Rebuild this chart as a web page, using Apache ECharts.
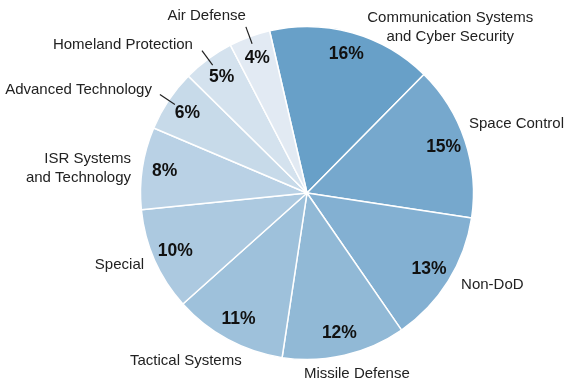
<!DOCTYPE html>
<html><head><meta charset="utf-8">
<script src="https://cdn.jsdelivr.net/npm/echarts@6/dist/echarts.min.js"></script>
<style>html,body{margin:0;padding:0;background:#fff}#c{width:573px;height:381px}</style>
</head><body><div id="c"></div>
<script>
const categories = ['Communication Systems\nand Cyber Security', 'Space Control', 'Non-DoD', 'Missile Defense', 'Tactical Systems', 'Special', 'ISR Systems\nand Technology', 'Advanced Technology', 'Homeland Protection', 'Air Defense'];
const shares = [16, 15, 13, 12, 11, 10, 8, 6, 5, 4];
const sliceColors = ['#68a0c8', '#76a8cd', '#83b0d2', '#91b9d6', '#9ec1db', '#acc9e0', '#b9d1e5', '#c7dae9', '#d4e2ee', '#e2eaf3'];
const hasLeader = [false, false, false, false, false, false, false, true, true, true];
// label placement tweaks relative to library-computed outside label anchor
const nameLabelTweaks = [
  {align: 'center', dx: 95, dy: 5},
  {align: 'left', dx: -6, dy: -13},
  {align: 'left', dx: 4, dy: -1.5},
  {align: 'center', dx: 10, dy: 8},
  {align: 'center', dx: -37, dy: 12},
  {align: 'right', dx: -1, dy: 0.5},
  {align: 'right', dx: -1, dy: 2},
  {align: 'right', dx: -8, dy: -5},
  {align: 'right', dx: -9, dy: -5.5},
  {align: 'right', dx: 0, dy: -11.5}
];

const FONT = '"Liberation Sans", Arial, Helvetica, sans-serif';
const CENTER = [307, 193];
const R = 166.5;
const START = 103;
const clear = 'rgba(0,0,0,0)';

const chart = echarts.init(document.getElementById('c'), null, {renderer: 'canvas'});

const sliceData = categories.map((n, i) => ({name: n, value: shares[i], itemStyle: {color: sliceColors[i]}}));
const pctData = categories.map((n, i) => ({name: n, value: shares[i]}));
const nameData = categories.map((n, i) => ({
  name: n, value: shares[i],
  labelLine: {show: hasLeader[i]}
}));

chart.setOption({
  animation: false,
  backgroundColor: '#fff',
  series: [
    {
      type: 'pie', center: CENTER, radius: R, startAngle: START, clockwise: true,
      silent: true, avoidLabelOverlap: false,
      itemStyle: {borderColor: '#fff', borderWidth: 1.5},
      label: {show: false}, labelLine: {show: false},
      emphasis: {disabled: true},
      data: sliceData, z: 1
    },
    {
      type: 'pie', center: CENTER, radius: [115.5, R], startAngle: START, clockwise: true,
      silent: true, avoidLabelOverlap: false,
      itemStyle: {color: clear, borderWidth: 0},
      label: {show: true, position: 'inside', formatter: '{c}%', color: '#111',
        fontFamily: FONT, fontSize: 17.5, fontWeight: 'bold'},
      labelLine: {show: false},
      emphasis: {disabled: true},
      data: pctData, z: 3
    },
    {
      type: 'pie', center: CENTER, radius: 159, startAngle: START, clockwise: true,
      silent: true, avoidLabelOverlap: false,
      itemStyle: {color: clear, borderWidth: 0},
      label: {show: true, position: 'outside', formatter: '{b}', color: '#222',
        fontFamily: FONT, fontSize: 15, lineHeight: 19, distanceToLabelLine: 0},
      labelLine: {show: true, length: 18, length2: 0, smooth: false,
        lineStyle: {color: '#222', width: 1.2}},
      labelLayout: function (p) {
        const t = nameLabelTweaks[p.dataIndex];
        return {align: t.align, dx: t.dx, dy: t.dy};
      },
      emphasis: {disabled: true},
      data: nameData, z: 4
    }
  ]
});
</script>
</body></html>
